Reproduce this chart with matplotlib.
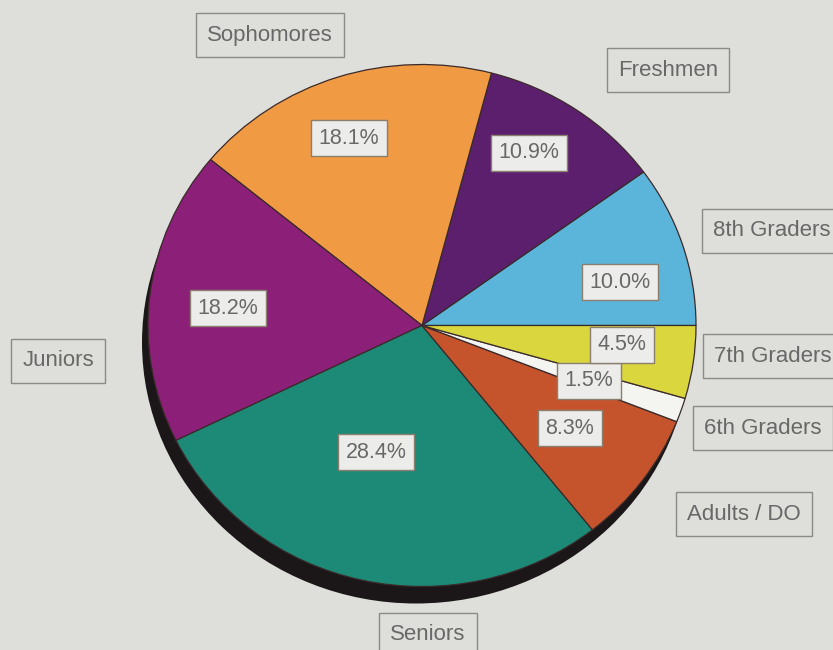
import matplotlib
matplotlib.use("Agg")
import matplotlib.pyplot as plt
from matplotlib.patches import Ellipse
from matplotlib import font_manager

# ---- data ----
categories = ["8th Graders", "Freshmen", "Sophomores", "Juniors", "Seniors",
              "Adults / DO", "6th Graders", "7th Graders"]
percents = [10.0, 10.9, 18.1, 18.2, 28.4, 8.3, 1.5, 4.5]
pct_labels = ["10.0%", "10.9%", "18.1%", "18.2%", "28.4%", "8.3%", "1.5%", "4.5%"]
colors = ["#5bb5da", "#5c1f6e", "#f09a44", "#8c1f78", "#1d8a77",
          "#c5542d", "#f4f4f0", "#d9d63e"]

# ---- layout (pixel positions of label boxes, from the top-left) ----
W, H = 833, 650
cx, cy = 422, 325.5          # pie centre
rx, ry = 274, 261            # pie radii in pixels
name_pos = {"Sophomores": (270, 35), "Freshmen": (668, 70),
            "8th Graders": (772, 231), "7th Graders": (773, 356),
            "6th Graders": (763, 428), "Adults / DO": (744, 514),
            "Seniors": (428, 635), "Juniors": (58, 361)}
pct_pos = {"10.0%": (620, 282), "10.9%": (529, 153), "18.1%": (349, 138),
           "18.2%": (228, 308), "28.4%": (376, 452), "8.3%": (570, 428),
           "1.5%": (589, 381), "4.5%": (622, 345)}

avail = {f.name for f in font_manager.fontManager.ttflist}
fam = ["Liberation Sans Narrow", "DejaVu Sans"] if "Liberation Sans Narrow" in avail else ["Liberation Sans", "DejaVu Sans"]
plt.rcParams["font.family"] = fam

bg = "#dededa"
fig = plt.figure(figsize=(W / 100, H / 100), dpi=100, facecolor=bg)
ax = fig.add_axes([0, 0, 1, 1])
ax.set_facecolor(bg)


def px(x, y):
    return ((x - cx) / rx, (cy - y) / ry)


# shadow
sx, sy = px(cx - 6, cy + 17)
ax.add_patch(Ellipse((sx, sy), 2, 2, facecolor="#1b1719", edgecolor="none", zorder=0))

ax.pie(percents, colors=colors, startangle=0, counterclock=True, radius=1,
       wedgeprops=dict(edgecolor="#3a2a2a", linewidth=0.9))
for w in ax.patches[1:]:
    w.set_zorder(1)

ax.set_aspect("auto")
ax.set_xlim(px(0, 0)[0], px(W, 0)[0])
ax.set_ylim(px(0, H)[1], px(0, 0)[1])
ax.axis("off")

txtc = "#686868"
for name in categories:
    x, y = px(*name_pos[name])
    ax.text(x, y, name, ha="center", va="center", fontsize=16, color=txtc, zorder=5,
            bbox=dict(boxstyle="square,pad=0.5", facecolor="none", edgecolor="#8a8a88", linewidth=1.0))
for lab in pct_labels:
    x, y = px(*pct_pos[lab])
    ax.text(x, y, lab, ha="center", va="center", fontsize=15.5, color=txtc, zorder=5,
            bbox=dict(boxstyle="square,pad=0.35", facecolor="#ececea", edgecolor="#8a7e6e", linewidth=1.0))

fig.savefig("out.png", dpi=100, facecolor=bg)
